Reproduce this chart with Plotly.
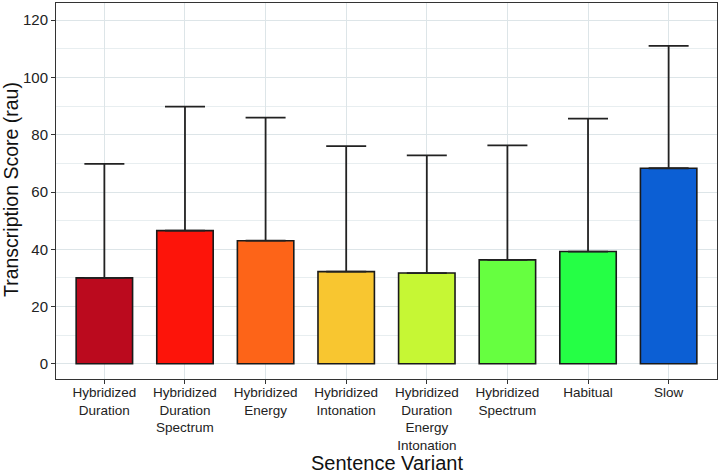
import plotly.graph_objects as go

categories = [
    "Hybridized<br>Duration",
    "Hybridized<br>Duration<br>Spectrum",
    "Hybridized<br>Energy",
    "Hybridized<br>Intonation",
    "Hybridized<br>Duration<br>Energy<br>Intonation",
    "Hybridized<br>Spectrum",
    "Habitual",
    "Slow",
]
means = [30.0, 46.5, 43.0, 32.2, 31.7, 36.3, 39.2, 68.3]
upper = [69.8, 89.8, 86.0, 76.0, 72.8, 76.3, 85.6, 111.0]
colors = ["#bb0a1e", "#fd140a", "#fd6418", "#f8c630", "#c6f734", "#66ff40", "#25ff45", "#0c5fd4"]
y_ticks = [0, 20, 40, 60, 80, 100, 120]

err = [u - m for u, m in zip(upper, means)]

W, H = 721, 474
L, R, T, B = 56, 4, 3, 95
pw, ph = W - L - R, H - T - B

fig = go.Figure()
fig.add_trace(go.Bar(
    x=list(range(len(categories))),
    y=means,
    width=0.7,
    marker=dict(color=colors, line=dict(color="#1a1a1a", width=1.6)),
    error_y=dict(type="data", symmetric=False, array=err, arrayminus=[0] * len(err),
                 color="#222222", thickness=1.8, width=20),
    showlegend=False,
))

grid_col = "#dde5e8"
fig.update_layout(
    width=W, height=H,
    margin=dict(l=L, r=R, t=T, b=B),
    paper_bgcolor="white", plot_bgcolor="white",
    font=dict(family="Liberation Sans, Arial, sans-serif", color="#1a1a1a"),
    annotations=[
        dict(text="Sentence Variant", xref="paper", yref="paper",
             x=(387 - L) / pw, y=-(463 - (T + ph)) / ph, xanchor="center", yanchor="middle",
             showarrow=False, font=dict(size=20, color="#111111")),
        dict(text="Transcription Score (rau)", xref="paper", yref="paper",
             x=-(L - 11) / pw, y=(T + ph - 190) / ph, xanchor="center", yanchor="middle",
             textangle=-90, showarrow=False, font=dict(size=19.5, color="#111111")),
    ],
)
fig.update_xaxes(
    range=[-0.6, 7.6], automargin=False,
    tickmode="array", tickvals=list(range(len(categories))), ticktext=categories,
    tickangle=0,
    tickfont=dict(size=13.5, color="#222222"),
    ticks="outside", ticklen=4, tickcolor="#333333", ticklabelstandoff=-3,
    showgrid=True, gridcolor=grid_col, gridwidth=1.2,
    showline=True, linecolor="#333333", linewidth=1, mirror=True,
    zeroline=False,
)
fig.update_yaxes(
    range=[-5.3, 126], automargin=False,
    tickmode="array", tickvals=y_ticks,
    tickfont=dict(size=15, color="#222222"),
    ticks="outside", ticklen=4, tickcolor="#333333",
    showgrid=True, gridcolor=grid_col, gridwidth=1.2,
    minor=dict(tickvals=[10, 30, 50, 70, 90, 110], showgrid=True, gridcolor="#e8eef0", gridwidth=0.8, ticks=""),
    showline=True, linecolor="#333333", linewidth=1, mirror=True,
    zeroline=False,
)

fig.write_html("out.html", config={"displayModeBar": False},
               post_script="document.body.style.margin='0';document.body.style.overflow='hidden';")
